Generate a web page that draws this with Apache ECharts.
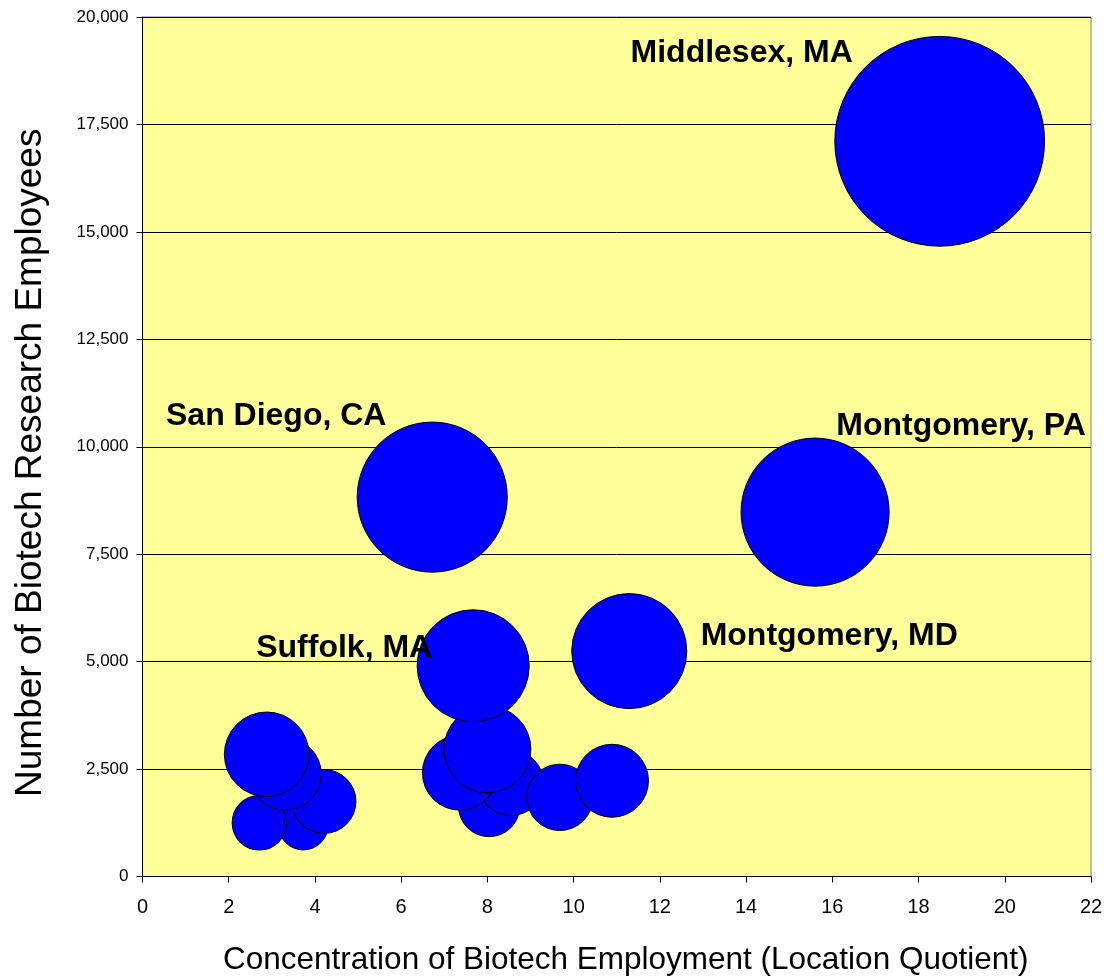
<!DOCTYPE html>
<html>
<head>
<meta charset="utf-8">
<title>Biotech Research Employment</title>
<script src="https://cdn.jsdelivr.net/npm/echarts@6/dist/echarts.min.js"></script>
<style>
	html, body { margin: 0; padding: 0; background: #ffffff; }
	#main { width: 1106px; height: 979px; }
</style>
</head>
<body>
<div id="main"></div>
<script>
// counties, drawn back to front
var counties = ['', '', '', '', '', '', '', '', '', '', '', 'Suffolk, MA', 'Montgomery, MD', 'Montgomery, PA', 'San Diego, CA', 'Middlesex, MA'];
// location quotient
var quotient = [3.73, 2.71, 4.21, 3.31, 2.88, 8.04, 8.55, 9.68, 7.36, 10.89, 8.00, 7.67, 11.29, 15.60, 6.72, 18.49];
// research employees
var employees = [1198, 1249, 1745, 2384, 2843, 1640, 2175, 1842, 2415, 2228, 2960, 4903, 5245, 8479, 8828, 17108];
// bubble size (area)
var bubble = [6.2, 7.4, 10.2, 13.0, 17.9, 9.4, 10.6, 11.0, 14.0, 13.3, 18.9, 31.4, 33.1, 54.8, 56.3, 110.0];

var xTicks = [0, 2, 4, 6, 8, 10, 12, 14, 16, 18, 20, 22];

var fontFam = 'Arial, "Liberation Sans", sans-serif';

// where each label sits from its bubble centre
var labelOffsets = {
	'Suffolk, MA': [-129, -18],
	'Montgomery, MD': [200, -15],
	'Montgomery, PA': [146, -86],
	'San Diego, CA': [-156, -81],
	'Middlesex, MA': [-198, -88]
};

var points = [];
for (var i = 0; i < counties.length; i++) {
	var item = {
		name: counties[i],
		value: [quotient[i], employees[i], bubble[i]]
	};
	if (counties[i]) {
		item.label = {
			show: true,
			position: 'inside',
			formatter: '{b}',
			offset: labelOffsets[counties[i]],
			color: '#000',
			fontFamily: fontFam,
			fontWeight: 'bold',
			fontSize: 32
		};
	}
	points.push(item);
}

var option = {
	backgroundColor: '#ffffff',
	animation: false,
	grid: {
		left: 142.5,
		right: 15,
		top: 17,
		bottom: 102.5,
		outerBoundsMode: 'none',
		show: true,
		backgroundColor: '#FFFF99',
		borderColor: '#808080',
		borderWidth: 1
	},
	xAxis: {
		type: 'value',
		min: 0,
		max: 22,
		interval: 2,
		name: 'Concentration of Biotech Employment (Location Quotient)',
		nameLocation: 'middle',
		nameGap: 68,
		nameTextStyle: { fontFamily: fontFam, fontSize: 31.5, color: '#000', padding: [0, 0, 0, 18] },
		axisLine: { show: true, onZero: false, lineStyle: { color: '#000', width: 1 } },
		axisTick: { show: true, inside: false, length: 6, lineStyle: { color: '#000' } },
		axisLabel: {
			fontFamily: fontFam, fontSize: 20, color: '#000', margin: 21,
			formatter: function(v) { return xTicks.indexOf(v) >= 0 ? String(v) : ''; }
		},
		splitLine: { show: false }
	},
	yAxis: {
		type: 'value',
		min: 0,
		max: 20000,
		interval: 2500,
		name: 'Number of Biotech Research Employees',
		nameLocation: 'middle',
		nameGap: 93,
		nameTextStyle: { fontFamily: fontFam, fontSize: 37, color: '#000', padding: [0, 32, 0, 0] },
		axisLine: { show: true, lineStyle: { color: '#000', width: 1 } },
		axisTick: { show: true, inside: false, length: 6, lineStyle: { color: '#000' } },
		axisLabel: {
			fontFamily: fontFam, fontSize: 17, color: '#000', margin: 14,
			formatter: function(v) { return v.toLocaleString('en-US'); }
		},
		splitLine: { show: true, lineStyle: { color: '#000', width: 1 } }
	},
	series: [{
		type: 'scatter',
		symbol: 'circle',
		symbolSize: function(val) {
			return 20 * Math.sqrt(val[2]);
		},
		itemStyle: {
			color: '#0000FF',
			opacity: 1,
			borderColor: '#000',
			borderWidth: 1
		},
		emphasis: { disabled: true },
		data: points
	}]
};

var myChart = echarts.init(document.getElementById('main'));
myChart.setOption(option);
</script>
</body>
</html>
